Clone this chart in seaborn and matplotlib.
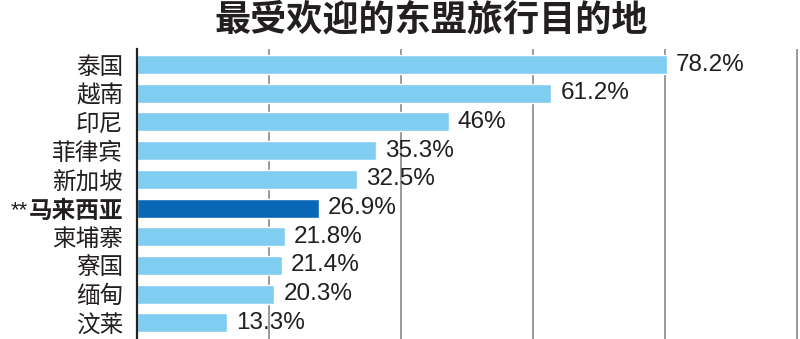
import matplotlib
matplotlib.use("Agg")
import matplotlib.pyplot as plt
import seaborn as sns
import numpy as np
import pandas as pd

countries = ["泰国", "越南", "印尼", "菲律宾", "新加坡", "**马来西亚", "柬埔寨", "寮国", "缅甸", "汶莱"]
values = [78.2, 61.2, 46, 35.3, 32.5, 26.9, 21.8, 21.4, 20.3, 13.3]
value_labels = ["78.2%", "61.2%", "46%", "35.3%", "32.5%", "26.9%", "21.8%", "21.4%", "20.3%", "13.3%"]
highlight = "**马来西亚"
title = "最受欢迎的东盟旅行目的地"

light = "#80cdf2"
dark = "#0868b5"

sns.set_theme(style="white")
plt.rcParams['font.family'] = ['Noto Sans CJK SC', 'DejaVu Sans']

df = pd.DataFrame({"country": countries, "value": values})
palette = {c: (dark if c == highlight else light) for c in countries}

fig = plt.figure(figsize=(8, 3.39), dpi=100)
ax = fig.add_axes([137/800, 0.0, 1 - 137/800, 1 - 49/339])

sns.barplot(data=df, y="country", x="value", hue="country", palette=palette,
            order=countries, orient="h", width=0.66, saturation=1, legend=False, ax=ax)

ax.set_xlim(0, 97.9)
ax.set_ylim(9.56, -0.54)
ax.set_xticks(np.arange(0, 98, 19.5))
ax.xaxis.grid(True, color="#9a9a9a", linewidth=1.4)
ax.set_axisbelow(True)
ax.tick_params(axis="x", bottom=False, labelbottom=False)
ax.tick_params(axis="y", left=False, length=0, pad=10, labelsize=17)
ax.set_xlabel("")
ax.set_ylabel("")
for s in ["top", "right", "bottom"]:
    ax.spines[s].set_visible(False)
ax.spines["left"].set_color("#222222")
ax.spines["left"].set_linewidth(1.6)

labels = [c.replace("**", "") for c in countries]
ax.set_yticks(range(len(countries)))
ax.set_yticklabels(labels)
for lab, c in zip(ax.get_yticklabels(), countries):
    lab.set_color("#231f20")
    if c == highlight:
        lab.set_fontweight("bold")

for i, (v, t) in enumerate(zip(values, value_labels)):
    ax.text(v + 1.3, i, t, va="center", ha="left", fontsize=17.5,
            family=["Liberation Sans", "DejaVu Sans"], color="#231f20")

fig.text(431/800, 1 - 20/339, title, ha="center", va="center", fontsize=26,
         fontweight="heavy", color="#231f20")

fig.canvas.draw()
renderer = fig.canvas.get_renderer()
for lab, c in zip(ax.get_yticklabels(), countries):
    if c == highlight:
        bb = lab.get_window_extent(renderer)
        fig.text((bb.x0 - 1) / fig.bbox.width, (bb.y1 - 2) / fig.bbox.height, "**",
                 ha="right", va="top", fontsize=16, color="#231f20",
                 family=["Liberation Sans", "DejaVu Sans"])

fig.savefig("out.png", dpi=100)
